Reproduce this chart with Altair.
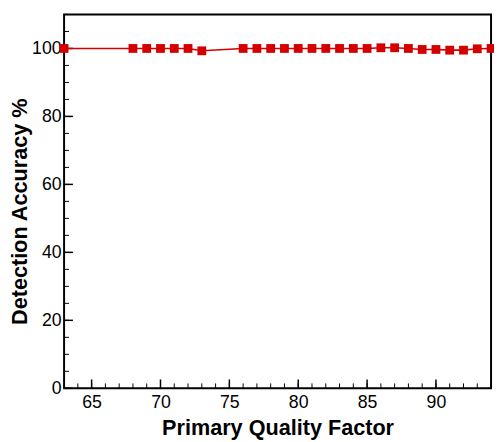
import altair as alt
import pandas as pd

# Data
quality = [63, 68, 69, 70, 71, 72, 73, 76, 77, 78, 79, 80, 81, 82, 83, 84, 85,
           86, 87, 88, 89, 90, 91, 92, 93, 94]
accuracy = [100, 100, 100, 100, 100, 100, 99.3, 100, 100, 100, 100, 100, 100, 100,
            100, 100, 100, 100.2, 100.2, 100, 99.7, 99.7, 99.5, 99.5, 99.9, 100]

x_major = [65, 70, 75, 80, 85, 90]
x_minor = list(range(63, 95))
y_major = [0, 20, 40, 60, 80, 100]
y_minor = list(range(0, 111, 5))

W, H = 434, 380
FONT = "Liberation Sans"
RED = "#d40000"

df = pd.DataFrame({"q": quality, "acc": accuracy})
xs = alt.Scale(domain=[63, 94], nice=False, zero=False)
ys = alt.Scale(domain=[0, 110], nice=False)

x_axis = alt.Axis(values=x_major, title="Primary Quality Factor", ticks=False, tickSize=0,
                  domain=False, grid=False, labelFontSize=18, labelFont=FONT,
                  labelColor="black", labelPadding=6, titleFont=FONT, titleFontSize=22,
                  titleFontWeight="bold", titleColor="black", titleX=W / 2, titleY=47,
                  titleBaseline="alphabetic", titleAlign="center")
y_axis = alt.Axis(values=y_major, title="Detection Accuracy %", ticks=False, tickSize=0,
                  domain=False, grid=False, labelFontSize=18, labelFont=FONT,
                  labelColor="black", labelPadding=3, titleFont=FONT, titleFontSize=22,
                  titleFontWeight="bold", titleColor="black", titleX=-45, titleY=200,
                  titleAngle=-90, titleBaseline="middle", titleAlign="center")

line = alt.Chart(df).mark_line(color=RED, strokeWidth=1.6, clip=False).encode(
    x=alt.X("q:Q", scale=xs, axis=x_axis),
    y=alt.Y("acc:Q", scale=ys, axis=y_axis),
)
pts = alt.Chart(df).mark_point(shape="square", filled=True, color=RED, size=80,
                               opacity=1, clip=False).encode(
    x=alt.X("q:Q", scale=xs),
    y=alt.Y("acc:Q", scale=ys),
)

xmin_df = pd.DataFrame({"t": x_minor})
xmaj_df = pd.DataFrame({"t": x_major})
ymin_df = pd.DataFrame({"t": y_minor})
ymaj_df = pd.DataFrame({"t": y_major})

xminor_r = alt.Chart(xmin_df).mark_rule(color="black", strokeWidth=1).encode(
    x=alt.X("t:Q", scale=xs), y=alt.value(H), y2=alt.value(H - 5))
xmajor_r = alt.Chart(xmaj_df).mark_rule(color="black", strokeWidth=1.5).encode(
    x=alt.X("t:Q", scale=xs), y=alt.value(H), y2=alt.value(H - 9))
yminor_r = alt.Chart(ymin_df).mark_rule(color="black", strokeWidth=1).encode(
    y=alt.Y("t:Q", scale=ys), x=alt.value(0), x2=alt.value(5))
ymajor_r = alt.Chart(ymaj_df).mark_rule(color="black", strokeWidth=1.5).encode(
    y=alt.Y("t:Q", scale=ys), x=alt.value(0), x2=alt.value(9))

chart = alt.layer(xminor_r, xmajor_r, yminor_r, ymajor_r, line, pts).properties(
    width=W, height=H,
    background="white",
    autosize=alt.AutoSizeParams(type="none"),
    padding={"left": 57, "top": 3, "right": 3, "bottom": 51},
).configure_view(stroke="black", strokeWidth=2)

chart.save("out.html", embed_options={"renderer": "svg", "actions": False})
